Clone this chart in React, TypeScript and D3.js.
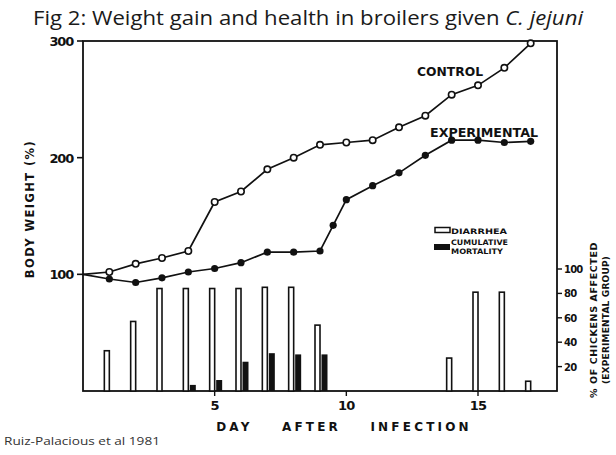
import React, { useEffect, useRef } from 'react';
import * as d3 from 'd3';

// body weight (%)
const controlDays = [0, 1, 2, 3, 4, 5, 6, 7, 8, 9, 10, 11, 12, 13, 14, 15, 16, 17];
const controlWeight = [100, 102, 109, 114, 120, 162, 171, 190, 200, 211, 213, 215, 226, 236, 254, 262, 277, 298];
const expDays = [0, 1, 2, 3, 4, 5, 6, 7, 8, 9, 9.5, 10, 11, 12, 13, 14, 15, 16, 17];
const expWeight = [100, 96, 93, 97, 102, 105, 110, 119, 119, 120, 142, 164, 176, 187, 202, 215, 215, 213, 214];

// % of chickens affected (experimental group)
const diarrheaDays = [1, 2, 3, 4, 5, 6, 7, 8, 9, 14, 15, 16, 17];
const diarrheaPct = [33, 57, 84, 84, 84, 84, 85, 85, 54, 27, 81, 81, 8];
const mortalityDays = [4, 5, 6, 7, 8, 9];
const mortalityPct = [5, 9, 24, 31, 30, 30];

const leftTicks = [100, 200, 300];
const rightTicks = [20, 40, 60, 80, 100];
const dayTicks = [5, 10, 15];

const LETTER = '"DejaVu Sans", "Liberation Sans", sans-serif';

const text = (svg, x, y, s, size, opts: any = {}) => {
  const t = svg
    .append('text')
    .attr('x', x)
    .attr('y', y)
    .attr('font-family', opts.family || LETTER)
    .attr('font-size', size)
    .attr('font-weight', opts.weight || 'bold')
    .attr('fill', opts.fill || '#111')
    .attr('text-anchor', opts.anchor || 'start')
    .style('white-space', 'pre')
    .text(s);
  if (opts.spacing) t.attr('letter-spacing', opts.spacing);
  if (opts.wordSpacing) t.attr('word-spacing', opts.wordSpacing);
  if (opts.rotate) t.attr('transform', 'rotate(' + opts.rotate + ',' + x + ',' + y + ')');
  if (opts.length) t.attr('textLength', opts.length).attr('lengthAdjust', 'spacingAndGlyphs');
  return t;
};

const App = () => {
  const ref = useRef<HTMLDivElement>(null);

  useEffect(() => {
    document.body.style.margin = '0';
    if (!ref.current) return;
    d3.select(ref.current).selectAll('*').remove();
    drawChart();
  }, []);

  const drawChart = () => {
    const width = 616,
      height = 455,
      left = 83,
      right = 557,
      top = 41,
      bottom = 391;

    const x = d3.scaleLinear().domain([0, 18]).range([left, right]);
    const yL = d3.scaleLinear().domain([0, 300]).range([bottom, top]);
    const yR = d3.scaleLinear().domain([0, 100]).range([bottom, 269]);

    const svg = d3
      .select(ref.current)
      .append('svg')
      .attr('width', width)
      .attr('height', height)
      .style('display', 'block')
      .style('background', '#fff');

    // title
    const title = svg
      .append('text')
      .attr('x', 33)
      .attr('y', 25)
      .attr('font-family', '"Open Sans", "Noto Sans", sans-serif')
      .attr('font-size', 20)
      .attr('fill', '#1a1a1a')
      .attr('textLength', 550)
      .attr('lengthAdjust', 'spacingAndGlyphs');
    title.append('tspan').text('Fig 2: Weight gain and health in broilers given ');
    title.append('tspan').attr('font-style', 'italic').text('C. jejuni');

    // frame
    svg
      .append('rect')
      .attr('x', left)
      .attr('y', top)
      .attr('width', right - left)
      .attr('height', bottom - top)
      .attr('fill', 'none')
      .attr('stroke', '#111')
      .attr('stroke-width', 1.8);

    // left ticks
    leftTicks.forEach((v) => {
      svg.append('line').attr('x1', left - 6).attr('x2', left).attr('y1', yL(v)).attr('y2', yL(v))
        .attr('stroke', '#111').attr('stroke-width', 1.6);
      text(svg, left - 10, yL(v) + 5, String(v), 13, { anchor: 'end', spacing: -1.2 });
    });

    // right ticks
    rightTicks.forEach((v) => {
      svg.append('line').attr('x1', right).attr('x2', right + 5).attr('y1', yR(v)).attr('y2', yR(v))
        .attr('stroke', '#111').attr('stroke-width', 1.4);
      text(svg, right + 7, yR(v) + 4, String(v), 10, { spacing: -0.8 });
    });

    // bottom ticks
    dayTicks.forEach((d) => {
      svg.append('line').attr('x1', x(d)).attr('x2', x(d)).attr('y1', bottom).attr('y2', bottom + 5)
        .attr('stroke', '#111').attr('stroke-width', 1.4);
      text(svg, x(d), bottom + 19, String(d), 13, { anchor: 'middle', spacing: -0.8 });
    });

    // axis titles
    text(svg, 34, 209, 'BODY WEIGHT (%)', 11.5, { anchor: 'middle', rotate: -90, spacing: 1.4 });
    text(svg, 344, 431, 'DAY AFTER INFECTION', 12, { anchor: 'middle', spacing: 3.2, wordSpacing: 22 });
    text(svg, 597, 320, '% OF CHICKENS AFFECTED', 9.5, { anchor: 'middle', rotate: -90, spacing: 0.6 });
    text(svg, 609, 320, '(EXPERIMENTAL GROUP)', 9, { anchor: 'middle', rotate: -90, spacing: 0.2 });

    // diarrhea bars (open)
    diarrheaDays.forEach((d, i) => {
      svg.append('rect')
        .attr('x', x(d) - 5)
        .attr('y', yR(diarrheaPct[i]))
        .attr('width', 5)
        .attr('height', bottom - yR(diarrheaPct[i]))
        .attr('fill', '#fff')
        .attr('stroke', '#111')
        .attr('stroke-width', 1.6);
    });

    // cumulative mortality bars (filled)
    mortalityDays.forEach((d, i) => {
      svg.append('rect')
        .attr('x', x(d) + 1.5)
        .attr('y', yR(mortalityPct[i]))
        .attr('width', 6)
        .attr('height', bottom - yR(mortalityPct[i]))
        .attr('fill', '#111');
    });

    // weight lines
    const line = d3
      .line<number>()
      .x((d) => x(d[0]))
      .y((d) => yL(d[1]));

    const control = controlDays.map((d, i) => [d, controlWeight[i]]);
    const exp = expDays.map((d, i) => [d, expWeight[i]]);

    [control, exp].forEach((pts) => {
      svg.append('path')
        .attr('d', line(pts as any))
        .attr('fill', 'none')
        .attr('stroke', '#111')
        .attr('stroke-width', 1.7);
    });

    control.slice(1).forEach((p) => {
      svg.append('circle').attr('cx', x(p[0])).attr('cy', yL(p[1])).attr('r', 3.2)
        .attr('fill', '#fff').attr('stroke', '#111').attr('stroke-width', 1.6);
    });
    exp.slice(1).forEach((p) => {
      svg.append('circle').attr('cx', x(p[0])).attr('cy', yL(p[1])).attr('r', 3.6).attr('fill', '#111');
    });

    // series labels
    text(svg, 417, 76, 'CONTROL', 11.5, { length: 66 });
    text(svg, 430, 137, 'EXPERIMENTAL', 11.5, { length: 108 });

    // legend
    svg.append('rect').attr('x', 435).attr('y', 227.5).attr('width', 15).attr('height', 5)
      .attr('fill', '#fff').attr('stroke', '#111').attr('stroke-width', 1.5);
    text(svg, 451, 233.5, 'DIARRHEA', 7.5, { length: 56 });
    svg.append('rect').attr('x', 434).attr('y', 244).attr('width', 16).attr('height', 6).attr('fill', '#111');
    text(svg, 451, 244.5, 'CUMULATIVE', 7.5, { length: 57 });
    text(svg, 451, 254, 'MORTALITY', 7.5, { length: 52 });

    // source
    text(svg, 4, 445, 'Ruiz-Palacious et al 1981', 10.5, {
      family: '"Open Sans", "Noto Sans", sans-serif',
      weight: 'normal',
      fill: '#333',
      length: 156,
    });
  };

  return <div id="chart" ref={ref} />;
};

export default App;
